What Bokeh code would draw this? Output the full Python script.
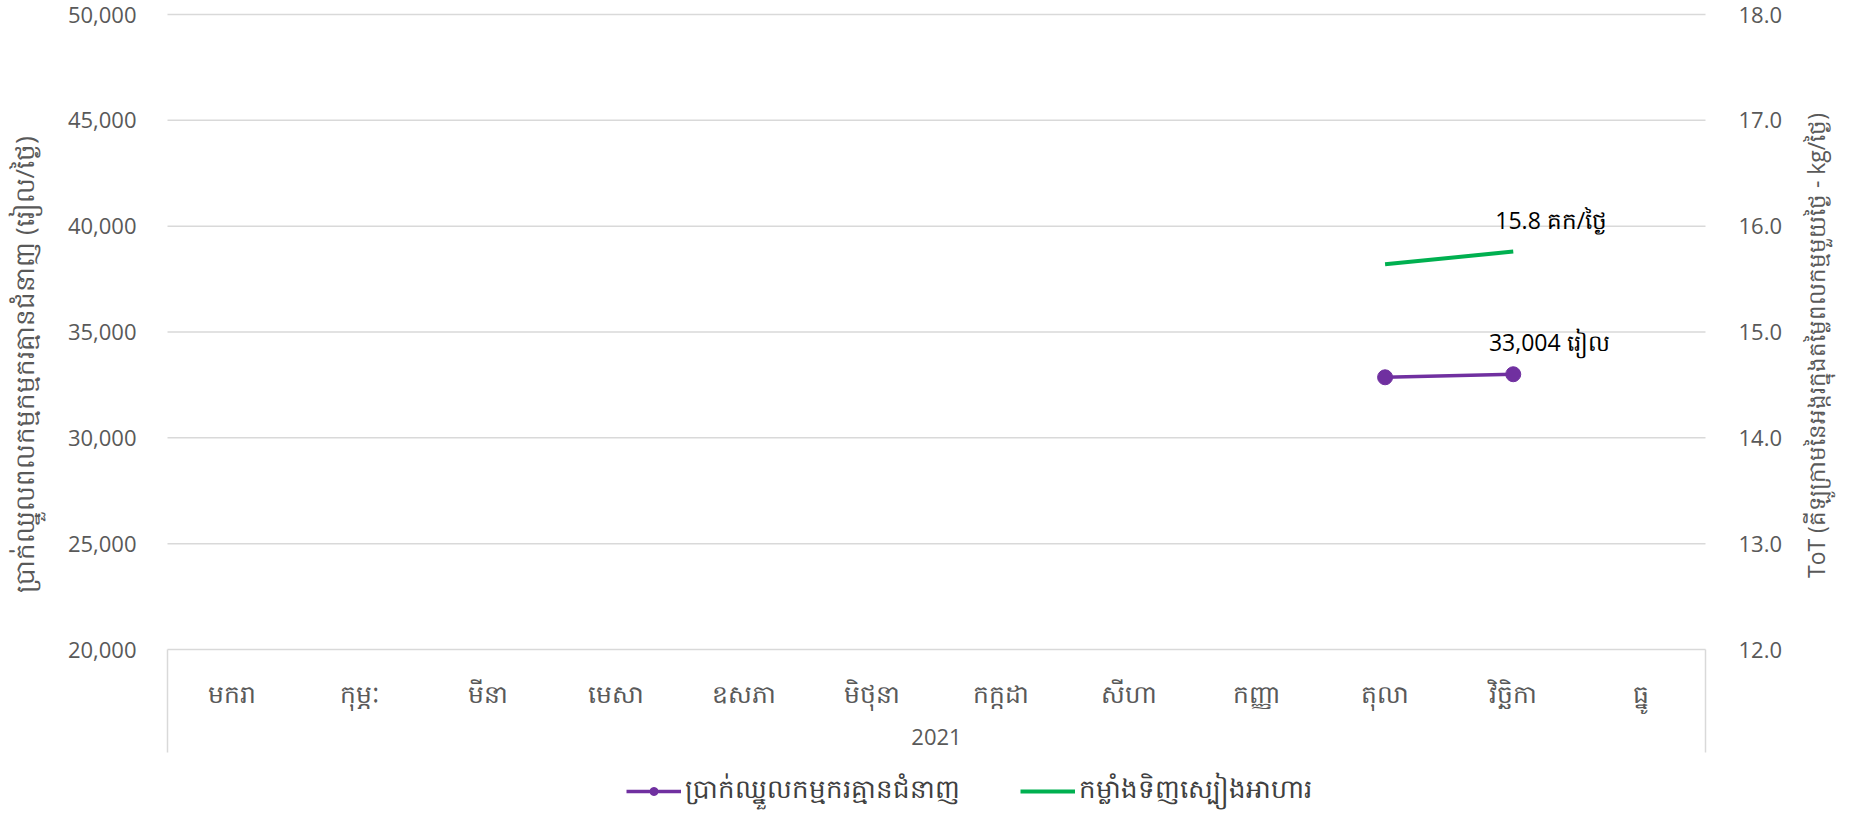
import math
from bokeh.plotting import figure
from bokeh.models import (Range1d, LinearAxis, FixedTicker, CustomJSTickFormatter, Label,
                          NumeralTickFormatter, Legend, LegendItem, ColumnDataSource)
from bokeh.embed import file_html
from bokeh.resources import INLINE
from bokeh.core.properties import value

# ---------------- data ----------------
year = "2021"
months = ["មករា", "កុម្ភៈ", "មីនា", "មេសា", "ឧសភា", "មិថុនា",
          "កក្កដា", "សីហា", "កញ្ញា", "តុលា", "វិច្ឆិកា", "ធ្នូ"]
data_months = ["តុលា", "វិច្ឆិកា"]
wage = [32860, 33004]          # riel / day
tot = [15.64, 15.76]           # kg / day
wage_name = "ប្រាក់ឈ្នួលកម្មករគ្មានជំនាញ"
tot_name = "កម្លាំងទិញស្បៀងអាហារ"
left_title = "ប្រាក់ឈ្នួលពលកម្មកម្មករគ្មានជំនាញ (រៀល/ថ្ងៃ)"
right_title = "ToT  (គីឡូក្រាមនៃអង្ករក្នុងតម្លៃពលកម្មមួយថ្ងៃ - kg/ថ្ងៃ)"
wage_unit = "រៀល"
tot_unit = "គក/ថ្ងៃ"
left_ticks = [20000, 25000, 30000, 35000, 40000, 45000, 50000]
right_ticks = [12, 13, 14, 15, 16, 17, 18]

# ---------------- styles / geometry (pixels) ----------------
FONT = "Open Sans"
GREY = "#595959"
GRID = "#d9d9d9"
PURPLE = "#7030A0"
GREEN = "#00B050"

W, H = 1836, 811     # whole drawing
LEFT = 167           # value area starts this far from the left edge
TOP = 14             # value area starts this far from the top edge
PLOT_W = 1538        # width of the value / category area
PLOT_H = 635         # height of the value area (20,000 .. 50,000)
CAT_H = 103          # height of the category box under the value area
YEAR_DY = 87         # year label centre below the value area
BELOW_H = H - TOP - PLOT_H
LEFT_TITLE_DX, LEFT_TITLE_DY = -144, 350     # axis-title centres relative to the value area
RIGHT_TITLE_DX, RIGHT_TITLE_DY = 110, 328

n = len(months)
month_pos = [i + 0.5 for i in range(n)]
xs = [months.index(m) + 0.5 for m in data_months]

ppu_l = PLOT_H / (left_ticks[-1] - left_ticks[0])
ppu_r = PLOT_H / (right_ticks[-1] - right_ticks[0])
ppu_x = PLOT_W / n

x_rng = Range1d(-LEFT / ppu_x, n + (W - LEFT - PLOT_W) / ppu_x)
y_left = Range1d(left_ticks[0] - BELOW_H / ppu_l, left_ticks[-1] + TOP / ppu_l)
y_right = Range1d(right_ticks[0] - BELOW_H / ppu_r, right_ticks[-1] + TOP / ppu_r)

p = figure(x_range=x_rng, y_range=y_left, frame_width=W, frame_height=H,
           min_border=0, output_backend="svg", toolbar_location=None)
p.outline_line_color = None
p.background_fill_color = "white"
p.border_fill_color = "white"
p.extra_y_ranges = {"tot": y_right}
p.xgrid.visible = False
p.ygrid.visible = False

# horizontal gridlines across the value area
p.segment(x0=[0] * len(left_ticks), x1=[n] * len(left_ticks), y0=left_ticks, y1=left_ticks,
          line_color=GRID, line_width=1.5)

# left axis
ya = p.yaxis[0]
ya.fixed_location = 0
ya.ticker = FixedTicker(ticks=left_ticks)
ya.formatter = NumeralTickFormatter(format="0,0")
ya.axis_line_color = None
ya.major_tick_line_color = None
ya.minor_tick_line_color = None
ya.major_label_standoff = 25
ya.major_label_text_font = FONT
ya.major_label_text_font_size = "22px"
ya.major_label_text_color = GREY

# right axis
ra = LinearAxis(y_range_name="tot", ticker=FixedTicker(ticks=right_ticks),
                formatter=NumeralTickFormatter(format="0.0"), fixed_location=n)
ra.axis_line_color = None
ra.major_tick_line_color = None
ra.minor_tick_line_color = None
ra.major_label_standoff = 27
ra.major_label_text_font = FONT
ra.major_label_text_font_size = "22px"
ra.major_label_text_color = GREY
p.add_layout(ra, "right")

# axis titles, centred on the value area
p.add_layout(Label(x=LEFT_TITLE_DX / ppu_x, y=left_ticks[-1] - LEFT_TITLE_DY / ppu_l,
                   text=left_title, angle=math.pi / 2, text_align="center",
                   text_baseline="middle", text_font=FONT, text_font_size="26px",
                   text_color=GREY))
p.add_layout(Label(x=n + RIGHT_TITLE_DX / ppu_x, y=right_ticks[-1] - RIGHT_TITLE_DY / ppu_r,
                   y_range_name="tot", text=right_title, angle=math.pi / 2,
                   text_align="center", text_baseline="middle", text_font=FONT,
                   text_font_size="23px", text_color=GREY))

# category axis (months), drawn at the foot of the value area
xa = p.xaxis[0]
xa.fixed_location = left_ticks[0]
xa.ticker = FixedTicker(ticks=month_pos)
xa.formatter = CustomJSTickFormatter(args=dict(labels=months),
                                     code="return labels[Math.floor(tick)]")
xa.axis_line_color = None
xa.major_tick_line_color = None
xa.minor_tick_line_color = None
xa.major_label_standoff = 20
xa.major_label_text_font = FONT
xa.major_label_text_font_size = "25px"
xa.major_label_text_color = GREY

# year under the months, centred on the category box
p.add_layout(Label(x=n / 2, y=left_ticks[0] - YEAR_DY / ppu_l, text=year,
                   text_align="center", text_baseline="middle", text_font=FONT,
                   text_font_size="22px", text_color=GREY))

# vertical edges of the category box
box_bottom = left_ticks[0] - CAT_H / ppu_l
p.segment(x0=[0, n], x1=[0, n], y0=[box_bottom] * 2, y1=[left_ticks[0]] * 2,
          line_color=GRID, line_width=1.5)

# series
src_w = ColumnDataSource(dict(x=xs, y=wage))
src_t = ColumnDataSource(dict(x=xs, y=tot))
r1 = p.line("x", "y", source=src_w, line_color=PURPLE, line_width=3.5)
r2 = p.scatter("x", "y", source=src_w, size=15, fill_color=PURPLE, line_color=PURPLE)
r3 = p.line("x", "y", source=src_t, line_color=GREEN, line_width=4, y_range_name="tot")

# data labels on the last point
p.text(x=[xs[-1]], y=[wage[-1]], text=[f"{wage[-1]:,} {wage_unit}"],
       x_offset=36, y_offset=-32, text_align="center", text_baseline="middle",
       text_font=value(FONT), text_font_size="23px", text_color="black")
p.text(x=[xs[-1]], y=[tot[-1]], text=[f"{tot[-1]:.1f} {tot_unit}"], y_range_name="tot",
       x_offset=38, y_offset=-32, text_align="center", text_baseline="middle",
       text_font=value(FONT), text_font_size="23px", text_color="black")

legend = Legend(items=[LegendItem(label=wage_name, renderers=[r1, r2]),
                       LegendItem(label=tot_name, renderers=[r3])],
                orientation="horizontal", location=(LEFT + 459, 0),
                glyph_width=55, glyph_height=20, spacing=60, label_standoff=4,
                label_text_font=FONT, label_text_font_size="26px", label_text_color="#404040",
                border_line_color=None, background_fill_alpha=0, margin=0, padding=2)
p.add_layout(legend, "center")

open("out.html", "w").write(file_html(p, INLINE))
